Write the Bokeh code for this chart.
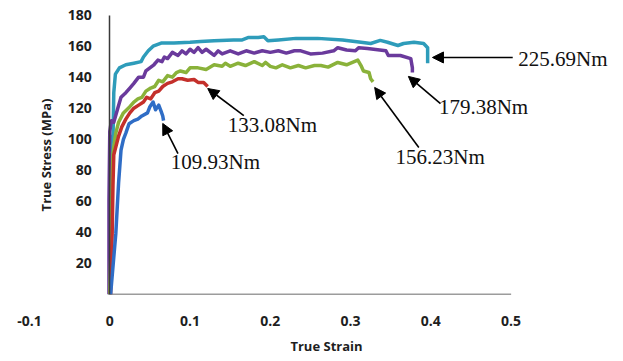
from bokeh.plotting import figure
from bokeh.models import (Range1d, LinearAxis, FixedTicker, Label, Arrow, NormalHead)
from bokeh.embed import file_html
from bokeh.resources import INLINE

# ---------------- data ----------------
x_ticks = [-0.1, 0.0, 0.1, 0.2, 0.3, 0.4, 0.5]
x_tick_labels = ["-0.1", "0", "0.1", "0.2", "0.3", "0.4", "0.5"]
y_ticks = [20, 40, 60, 80, 100, 120, 140, 160, 180]
y_tick_labels = ["20", "40", "60", "80", "100", "120", "140", "160", "180"]

series_names = ["225.69Nm", "179.38Nm", "156.23Nm", "133.08Nm", "109.93Nm"]

strain_22569 = [0, 0.0005, 0.001, 0.002, 0.004, 0.005, 0.007, 0.012, 0.02, 0.03, 0.039, 0.042,
                0.048, 0.054, 0.064, 0.08, 0.1, 0.113, 0.13, 0.154, 0.165, 0.173, 0.185, 0.192,
                0.197, 0.21, 0.232, 0.259, 0.29, 0.313, 0.325, 0.337, 0.346, 0.359, 0.366, 0.379,
                0.391, 0.396, 0.396]
stress_22569 = [0, 40, 80, 102, 99, 130, 142, 146, 148, 149, 150, 153,
                157, 160, 162, 162, 162.5, 163, 163.5, 164, 164, 165.6, 165.5, 166,
                163.5, 164, 165, 165, 164, 162.5, 161.7, 163.7, 162.5, 160.4, 161.7, 162.5,
                161.7, 159, 149]

strain_17938 = [-0.001, -0.001, 0.0, 0.002, 0.005, 0.01, 0.014, 0.02, 0.025, 0.03, 0.036, 0.042,
                0.045, 0.05, 0.055, 0.06, 0.065, 0.068, 0.072, 0.078, 0.085, 0.09, 0.095, 0.1,
                0.105, 0.11, 0.115, 0.12, 0.13, 0.135, 0.14, 0.15, 0.16, 0.17, 0.18, 0.19, 0.2,
                0.21, 0.22, 0.23, 0.238, 0.25, 0.265, 0.279, 0.284, 0.295, 0.306, 0.31, 0.321,
                0.344, 0.347, 0.362, 0.375, 0.377, 0.377]
stress_17938 = [0, 60, 105, 112, 111, 120, 127, 130, 133, 136, 140, 140,
                144, 146, 148, 151, 150, 153, 152, 156, 154, 157, 155, 158,
                156, 159, 156, 158, 154, 157, 155, 157, 155, 157, 155.5, 157, 156,
                157, 155.5, 157, 157, 155, 155.5, 157, 159, 157.5, 157, 159, 158.5,
                157, 154, 154, 152, 146, 143]

strain_15623 = [0.0, 0.002, 0.003, 0.004, 0.0075, 0.011, 0.017, 0.025, 0.03, 0.035, 0.04, 0.045,
                0.051, 0.056, 0.061, 0.066, 0.072, 0.078, 0.083, 0.088, 0.095, 0.1, 0.11, 0.12,
                0.13, 0.14, 0.144, 0.15, 0.16, 0.169, 0.18, 0.19, 0.194, 0.2, 0.207, 0.215,
                0.225, 0.235, 0.244, 0.255, 0.263, 0.272, 0.284, 0.295, 0.309, 0.313, 0.316,
                0.323, 0.325, 0.328]
stress_15623 = [0, 40, 75, 91, 104, 111, 117, 121, 124, 126, 127, 131,
                133, 134, 138, 137, 141, 140, 143, 144, 143, 146, 146, 145,
                148, 147, 149, 147, 149, 147.5, 150, 147.5, 149.5, 147, 146, 148,
                146, 147.5, 146, 147.5, 147.5, 146.5, 149.5, 148, 151, 147.5, 144,
                143, 139, 137]

strain_13308 = [0.001, 0.003, 0.004, 0.005, 0.011, 0.015, 0.02, 0.025, 0.03, 0.036, 0.042, 0.046,
                0.051, 0.056, 0.061, 0.066, 0.072, 0.078, 0.085, 0.09, 0.097, 0.105, 0.11,
                0.117, 0.122]
stress_13308 = [0, 40, 70, 90, 102, 108, 113, 117, 120, 122, 124, 127,
                126, 130, 131, 134, 136, 137, 139, 139, 138, 138.5, 136.6,
                136.5, 134]

strain_10993 = [0.001, 0.0075, 0.011, 0.014, 0.017, 0.02, 0.024, 0.03, 0.035, 0.04, 0.047, 0.05,
                0.054, 0.057, 0.061, 0.064, 0.066, 0.067]
stress_10993 = [0, 39, 72, 93, 100, 104, 110, 112, 113, 115, 117, 121,
                124, 119, 122, 118, 115, 112]

series_strain = [strain_22569, strain_17938, strain_15623, strain_13308, strain_10993]
series_stress = [stress_22569, stress_17938, stress_15623, stress_13308, stress_10993]
series_colors = ["#2E9CBA", "#6A3A9C", "#8AB23A", "#C4302B", "#2F6DC6"]

# annotation label anchors (data coords) and arrow tail/head (data coords)
label_x = [0.509, 0.410, 0.356, 0.147, 0.076]
label_y = [151.7, 121.1, 88.3, 108.9, 85.1]
arrow_x0 = [0.502, 0.412, 0.385, 0.167, 0.085]
arrow_y0 = [152.7, 123.0, 94.7, 115.3, 90.8]
arrow_x1 = [0.402, 0.372, 0.330, 0.122, 0.066]
arrow_y1 = [152.7, 140.5, 133.4, 132.7, 110.2]

# ---------------- figure ----------------
p = figure(width=623, height=361, output_backend="svg", toolbar_location=None,
           x_range=Range1d(-0.1, 0.64), y_range=Range1d(0, 189.4),
           x_axis_type=None, y_axis_type=None,
           min_border_left=29, min_border_right=0, min_border_top=0, min_border_bottom=67)
p.outline_line_color = None
p.background_fill_color = "white"
p.border_fill_color = "white"
p.xgrid.visible = False
p.ygrid.visible = False

axis_color = "#3a3a3a"
tick_font = "Open Sans"
text_color = "#1e1e1e"

# x axis (labels only, axis line drawn from 0 to 0.5 below)
xaxis = LinearAxis(ticker=FixedTicker(ticks=x_ticks),
                   major_label_overrides={t: l for t, l in zip(x_ticks, x_tick_labels)},
                   axis_label="True Strain")
xaxis.axis_line_color = None
xaxis.major_tick_out = 0
xaxis.major_tick_in = 0
xaxis.minor_tick_out = 0
xaxis.minor_tick_in = 0
xaxis.major_label_standoff = 21
xaxis.major_label_text_font = tick_font
xaxis.major_label_text_font_size = "14px"
xaxis.major_label_text_font_style = "bold"
xaxis.major_label_text_color = text_color
xaxis.axis_label_standoff = 8
xaxis.axis_label_text_font = tick_font
xaxis.axis_label_text_font_size = "13px"
xaxis.axis_label_text_font_style = "bold"
xaxis.axis_label_text_color = text_color
p.add_layout(xaxis, "below")

# y axis crossing at x = 0
yaxis = LinearAxis(ticker=FixedTicker(ticks=y_ticks),
                   major_label_overrides={t: l for t, l in zip(y_ticks, y_tick_labels)},
                   axis_label="True Stress (MPa)", fixed_location=0, bounds=(0, 180))
yaxis.axis_line_color = axis_color
yaxis.axis_line_width = 1.5
yaxis.major_tick_out = 0
yaxis.major_tick_in = 0
yaxis.minor_tick_out = 0
yaxis.minor_tick_in = 0
yaxis.major_label_standoff = 18
yaxis.major_label_text_font = tick_font
yaxis.major_label_text_font_size = "14px"
yaxis.major_label_text_font_style = "bold"
yaxis.major_label_text_color = text_color
yaxis.axis_label_standoff = 9
yaxis.axis_label_text_font = tick_font
yaxis.axis_label_text_font_size = "13px"
yaxis.axis_label_text_font_style = "bold"
yaxis.axis_label_text_color = text_color
p.add_layout(yaxis, "left")

# horizontal axis line from 0 to 0.5
p.segment(x0=[x_ticks[1]], y0=[0], x1=[x_ticks[-1]], y1=[0], line_color=axis_color, line_width=1.5)

for xs, ys, c in zip(series_strain, series_stress, series_colors):
    p.line(xs, ys, line_color=c, line_width=3.5, line_join="round")

for name, lx, ly in zip(series_names, label_x, label_y):
    p.add_layout(Label(x=lx, y=ly, text=name, text_font="Liberation Serif",
                       text_font_size="21px", text_color="#111111",
                       text_align="left", text_baseline="middle"))

for xa, ya, xb, yb in zip(arrow_x0, arrow_y0, arrow_x1, arrow_y1):
    p.add_layout(Arrow(x_start=xa, y_start=ya, x_end=xb, y_end=yb,
                       line_color="black", line_width=1.6,
                       end=NormalHead(size=11, fill_color="black", line_color="black")))

open("out.html", "w").write(file_html(p, INLINE))
